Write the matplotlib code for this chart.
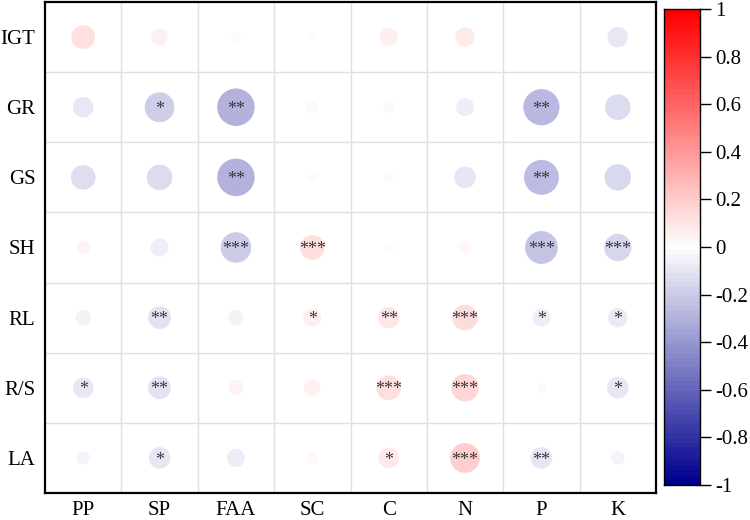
import matplotlib
matplotlib.use("Agg")
import matplotlib.pyplot as plt
import numpy as np
from matplotlib.colors import LinearSegmentedColormap, Normalize

plt.rcParams['font.family'] = ['Liberation Serif', 'DejaVu Serif']
plt.rcParams['axes.unicode_minus'] = False

rows = ["IGT", "GR", "GS", "SH", "RL", "R/S", "LA"]
cols = ["PP", "SP", "FAA", "SC", "C", "N", "P", "K"]

r_igt = [0.12, 0.06, 0.02, -0.01, 0.07, 0.08, 0.0, -0.09]
r_gr = [-0.09, -0.19, -0.30, 0.03, 0.03, -0.07, -0.28, -0.14]
r_gs = [-0.13, -0.14, -0.30, 0.02, -0.02, -0.10, -0.26, -0.15]
r_sh = [0.04, -0.07, -0.20, 0.13, 0.02, 0.035, -0.23, -0.16]
r_rl = [-0.05, -0.11, -0.05, 0.07, 0.10, 0.14, -0.07, -0.08]
r_rs = [-0.09, -0.11, 0.05, 0.06, 0.13, 0.16, -0.02, -0.10]
r_la = [-0.04, -0.10, -0.07, 0.03, 0.09, 0.19, -0.10, -0.04]

s_igt = ["", "", "", "", "", "", "", ""]
s_gr = ["", "*", "**", "", "", "", "**", ""]
s_gs = ["", "", "**", "", "", "", "**", ""]
s_sh = ["", "", "***", "***", "", "", "***", "***"]
s_rl = ["", "**", "", "*", "**", "***", "*", "*"]
s_rs = ["*", "**", "", "", "***", "***", "", "*"]
s_la = ["", "*", "", "", "*", "***", "**", ""]

cbar_ticks = [1, 0.8, 0.6, 0.4, 0.2, 0, -0.2, -0.4, -0.6, -0.8, -1]
cbar_labels = ["1", "0.8", "0.6", "0.4", "0.2", "0", "-0.2", "-0.4", "-0.6", "-0.8", "-1"]

R = np.array([r_igt, r_gr, r_gs, r_sh, r_rl, r_rs, r_la])
S = [s_igt, s_gr, s_gs, s_sh, s_rl, s_rs, s_la]

cmap = LinearSegmentedColormap.from_list(
    "bwr_dark", [(0.0, (0.0, 0.0, 0.56)), (0.5, (1, 1, 1)), (1.0, (1.0, 0.0, 0.0))], N=256)
norm = Normalize(-1, 1)

fig = plt.figure(figsize=(7.5, 5.2), dpi=100)
ax = fig.add_axes([45/750, 1-493/520, 611/750, 491/520])

nr, nc = R.shape
xs, ys = np.meshgrid(np.arange(nc), np.arange(nr))
ax.scatter(xs.ravel(), ys.ravel(), s=np.abs(R).ravel()*2425,
           c=R.ravel(), cmap=cmap, norm=norm, edgecolors='none', zorder=3)

for i in range(nr):
    for j in range(nc):
        if S[i][j]:
            ax.text(j, i + 0.03, S[i][j], ha='center', va='center',
                    fontsize=13, color='#3a3a3a', zorder=4)

ax.set_xlim(-0.5, nc - 0.5)
ax.set_ylim(nr - 0.5, -0.5)
for k in range(1, nc):
    ax.axvline(k - 0.5, color='#e0e0e0', lw=1.0, zorder=1)
for k in range(1, nr):
    ax.axhline(k - 0.5, color='#e0e0e0', lw=1.0, zorder=1)

ax.set_xticks(np.arange(nc))
ax.set_xticklabels(cols, fontsize=15)
ax.set_yticks(np.arange(nr))
ax.set_yticklabels(rows, fontsize=15)
ax.tick_params(axis='y', length=0, pad=7)
ax.tick_params(axis='x', length=0, pad=6)
for sp in ax.spines.values():
    sp.set_linewidth(1.6)
    sp.set_color('black')

cax = fig.add_axes([664/750, 1-485/520, 36/750, 476/520])
grad = np.linspace(-1, 1, 101).reshape(-1, 1)
cax.imshow(grad, aspect='auto', cmap=cmap, norm=norm, origin='lower',
           extent=[0, 1, -1, 1])
cax.set_xlim(0, 1)
cax.set_ylim(-1, 1)
cax.set_xticks([])
cax.yaxis.tick_right()
cax.set_yticks(cbar_ticks)
cax.set_yticklabels(cbar_labels, fontsize=15)
cax.tick_params(axis='y', length=8, width=1.0, pad=3)
for sp in cax.spines.values():
    sp.set_linewidth(1.0)

fig.savefig("out.png", dpi=100)
